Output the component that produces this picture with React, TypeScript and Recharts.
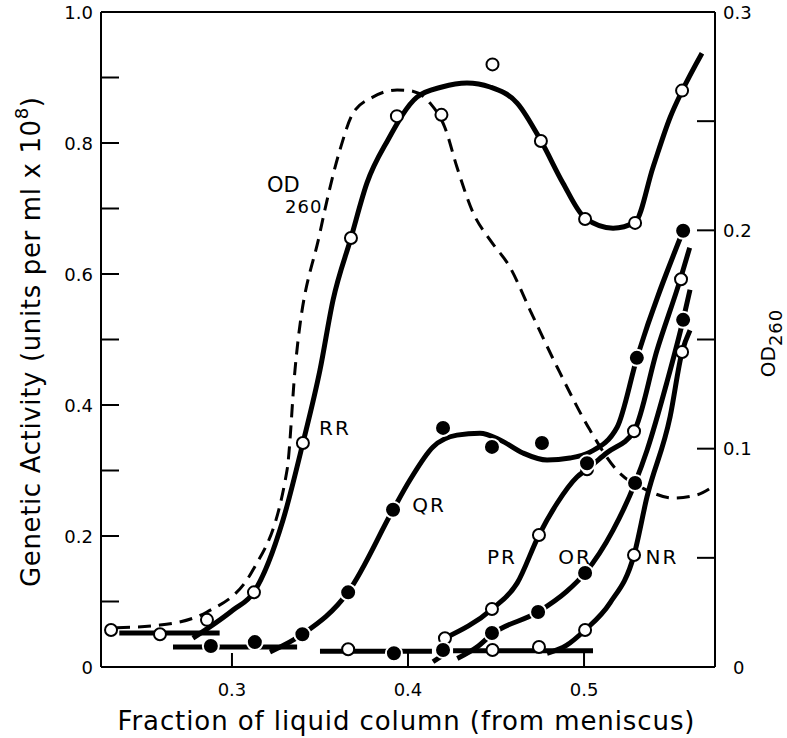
import React from 'react';
import { ComposedChart, Line, XAxis, YAxis, ReferenceLine, ReferenceDot } from 'recharts';

const FONT = '"DejaVu Sans", Verdana, sans-serif';

// plot frame in page pixels (chart sits at 0,0)
const PLOT_TOP = 12;
const PLOT_BOTTOM = 667;
const PLOT_LEFT = 101;
const PLOT_RIGHT = 715;

const xTicks = [0.3, 0.4, 0.5];
const gaTicks = [0, 0.1, 0.2, 0.3, 0.4, 0.5, 0.6, 0.7, 0.8, 0.9, 1.0];
const odTicks = [0, 0.05, 0.1, 0.15, 0.2, 0.25, 0.3];

// OD260 trace (right axis)
const odCurve = [
  { x: 0.2347, y: 0.018 }, { x: 0.2591, y: 0.0192 }, { x: 0.2858, y: 0.0252 },
  { x: 0.3119, y: 0.0444 }, { x: 0.3313, y: 0.0902 }, { x: 0.3358, y: 0.136 },
  { x: 0.35, y: 0.199 }, { x: 0.3614, y: 0.237 }, { x: 0.3688, y: 0.2537 },
  { x: 0.38, y: 0.261 }, { x: 0.3938, y: 0.2643 }, { x: 0.401, y: 0.264 },
  { x: 0.4125, y: 0.2583 }, { x: 0.421, y: 0.247 }, { x: 0.4278, y: 0.229 },
  { x: 0.437, y: 0.208 }, { x: 0.4466, y: 0.1956 }, { x: 0.458, y: 0.183 },
  { x: 0.4693, y: 0.1635 }, { x: 0.4847, y: 0.1374 }, { x: 0.5034, y: 0.1085 },
  { x: 0.5188, y: 0.09 }, { x: 0.5358, y: 0.081 }, { x: 0.5506, y: 0.0774 },
  { x: 0.564, y: 0.0788 }, { x: 0.5727, y: 0.0824 },
];

// genetic activity curves
const rrBase = [{ x: 0.236, y: 0.052 }, { x: 0.293, y: 0.052 }];
const rrCurve = [
  { x: 0.2778, y: 0.044 }, { x: 0.3006, y: 0.087 }, { x: 0.3125, y: 0.1145 },
  { x: 0.329, y: 0.2244 }, { x: 0.3403, y: 0.342 }, { x: 0.35, y: 0.4534 },
  { x: 0.3574, y: 0.56 }, { x: 0.3676, y: 0.655 }, { x: 0.3767, y: 0.739 },
  { x: 0.3886, y: 0.8046 }, { x: 0.4051, y: 0.87 }, { x: 0.4193, y: 0.8855 },
  { x: 0.4335, y: 0.8916 }, { x: 0.4466, y: 0.8855 }, { x: 0.462, y: 0.861 },
  { x: 0.4756, y: 0.803 }, { x: 0.488, y: 0.739 }, { x: 0.5006, y: 0.6855 },
  { x: 0.5165, y: 0.67 }, { x: 0.529, y: 0.679 }, { x: 0.5392, y: 0.763 },
  { x: 0.549, y: 0.8397 }, { x: 0.5557, y: 0.8794 }, { x: 0.567, y: 0.937 },
];
const qrBase = [{ x: 0.2665, y: 0.0305 }, { x: 0.337, y: 0.0305 }];
const qrCurve = [
  { x: 0.3216, y: 0.023 }, { x: 0.34, y: 0.05 }, { x: 0.366, y: 0.1145 },
  { x: 0.3915, y: 0.24 }, { x: 0.4011, y: 0.2855 }, { x: 0.4142, y: 0.336 },
  { x: 0.4278, y: 0.354 }, { x: 0.4409, y: 0.357 }, { x: 0.4523, y: 0.3466 },
  { x: 0.4653, y: 0.3267 }, { x: 0.479, y: 0.316 }, { x: 0.492, y: 0.319 },
  { x: 0.5034, y: 0.328 }, { x: 0.5188, y: 0.366 }, { x: 0.5301, y: 0.472 },
  { x: 0.5563, y: 0.666 },
];
const lowBaseA = [{ x: 0.35, y: 0.024 }, { x: 0.4136, y: 0.024 }];
const lowBaseB = [{ x: 0.4256, y: 0.025 }, { x: 0.5051, y: 0.025 }];
const prCurve = [
  { x: 0.421, y: 0.044 }, { x: 0.4477, y: 0.0885 }, { x: 0.462, y: 0.128 },
  { x: 0.4744, y: 0.2015 }, { x: 0.4847, y: 0.25 }, { x: 0.496, y: 0.29 },
  { x: 0.5017, y: 0.302 }, { x: 0.513, y: 0.327 }, { x: 0.5284, y: 0.36 },
  { x: 0.5415, y: 0.484 }, { x: 0.5546, y: 0.591 }, { x: 0.56, y: 0.64 },
];
const orStart = [{ x: 0.4142, y: 0.008 }, { x: 0.4227, y: 0.023 }];
const orCurve = [
  { x: 0.428, y: 0.013 }, { x: 0.44, y: 0.032 }, { x: 0.4477, y: 0.05 },
  { x: 0.4739, y: 0.084 }, { x: 0.49, y: 0.115 }, { x: 0.5006, y: 0.1435 },
  { x: 0.5165, y: 0.209 }, { x: 0.529, y: 0.281 }, { x: 0.5358, y: 0.331 },
  { x: 0.547, y: 0.434 }, { x: 0.5563, y: 0.53 }, { x: 0.5602, y: 0.576 },
];
const nrCurve = [
  { x: 0.479, y: 0.021 }, { x: 0.49, y: 0.033 }, { x: 0.5006, y: 0.0565 },
  { x: 0.5148, y: 0.098 }, { x: 0.5284, y: 0.171 }, { x: 0.5358, y: 0.26 },
  { x: 0.5489, y: 0.382 }, { x: 0.5557, y: 0.481 }, { x: 0.5602, y: 0.514 },
];

// measured points
const rrPoints = [
  { x: 0.2313, y: 0.0565 }, { x: 0.2591, y: 0.05 }, { x: 0.2858, y: 0.072 },
  { x: 0.3125, y: 0.114 }, { x: 0.3403, y: 0.342 }, { x: 0.3676, y: 0.655 },
  { x: 0.3937, y: 0.841 }, { x: 0.419, y: 0.843 }, { x: 0.448, y: 0.92 },
  { x: 0.4755, y: 0.803 }, { x: 0.5006, y: 0.684 }, { x: 0.529, y: 0.678 },
  { x: 0.5557, y: 0.88 },
];
const qrPoints = [
  { x: 0.288, y: 0.032 }, { x: 0.313, y: 0.038 }, { x: 0.34, y: 0.05 },
  { x: 0.366, y: 0.114 }, { x: 0.3915, y: 0.24 }, { x: 0.4199, y: 0.365 },
  { x: 0.4477, y: 0.336 }, { x: 0.4761, y: 0.342 }, { x: 0.5017, y: 0.311 },
  { x: 0.53, y: 0.472 }, { x: 0.5563, y: 0.666 },
];
const prPoints = [
  { x: 0.421, y: 0.044 }, { x: 0.4477, y: 0.0885 }, { x: 0.4744, y: 0.2015 },
  { x: 0.5017, y: 0.302 }, { x: 0.5284, y: 0.36 }, { x: 0.5551, y: 0.592 },
];
const orPoints = [
  { x: 0.392, y: 0.021 }, { x: 0.4199, y: 0.026 }, { x: 0.4477, y: 0.052 },
  { x: 0.4739, y: 0.084 }, { x: 0.5006, y: 0.1435 }, { x: 0.529, y: 0.281 },
  { x: 0.5563, y: 0.53 },
];
const nrPoints = [
  { x: 0.366, y: 0.027 }, { x: 0.448, y: 0.026 }, { x: 0.4744, y: 0.0305 },
  { x: 0.5006, y: 0.0565 }, { x: 0.5284, y: 0.171 }, { x: 0.5557, y: 0.481 },
];

const curveLabels = [
  { text: 'RR', x: 0.3585, y: 0.365 },
  { text: 'QR', x: 0.412, y: 0.247 },
  { text: 'PR', x: 0.4534, y: 0.168 },
  { text: 'OR', x: 0.4949, y: 0.168 },
  { text: 'NR', x: 0.5443, y: 0.168 },
];

const openDot = { r: 6, fill: '#fff', stroke: '#000', strokeWidth: 2 };
const filledDot = { r: 8, fill: '#000', stroke: '#fff', strokeWidth: 2 };

const BottomTick = (props: any) => {
  const { x, payload } = props;
  return (
    <g>
      <line x1={x} y1={PLOT_BOTTOM} x2={x} y2={PLOT_BOTTOM - 14} stroke="#000" strokeWidth={2} />
      <text x={x} y={689} textAnchor="middle" dominantBaseline="central" fontSize={18} fontFamily={FONT}>
        {payload.value.toFixed(1)}
      </text>
    </g>
  );
};

const LeftTick = (props: any) => {
  const { y, payload } = props;
  const v = payload.value;
  const tenth = Math.round(v * 10);
  const showLabel = tenth % 2 === 0;
  return (
    <g>
      {v > 0 && v < 1 && (
        <line x1={PLOT_LEFT} y1={y} x2={PLOT_LEFT + 18} y2={y} stroke="#000" strokeWidth={2} />
      )}
      {showLabel && (
        <text x={93} y={y} textAnchor="end" dominantBaseline="central" fontSize={18} fontFamily={FONT}>
          {v === 0 ? '0' : v.toFixed(1)}
        </text>
      )}
    </g>
  );
};

const RightTick = (props: any) => {
  const { y, payload } = props;
  const v = payload.value;
  const step = Math.round(v * 20);
  const showLabel = step % 2 === 0;
  return (
    <g>
      {v > 0 && v < 0.3 && (
        <line x1={PLOT_RIGHT - 18} y1={y} x2={PLOT_RIGHT} y2={y} stroke="#000" strokeWidth={2} />
      )}
      {showLabel && (
        <text x={v === 0 ? 733 : 723} y={y} textAnchor="start" dominantBaseline="central" fontSize={18} fontFamily={FONT}>
          {v === 0 ? '0' : v.toFixed(1)}
        </text>
      )}
    </g>
  );
};

const LeftTitle = () => (
  <text
    x={31}
    y={342}
    transform="rotate(-90, 31, 342)"
    textAnchor="middle"
    dominantBaseline="central"
    fontSize={26}
    fontFamily={FONT}
    textLength={490}
    lengthAdjust="spacing"
  >
    Genetic Activity (units per ml x 10<tspan dy={-10} fontSize={18}>8</tspan><tspan dy={10}>)</tspan>
  </text>
);

const BottomTitle = () => (
  <text
    x={406}
    y={721}
    textAnchor="middle"
    dominantBaseline="central"
    fontSize={26}
    fontFamily={FONT}
    textLength={577}
    lengthAdjust="spacing"
  >
    Fraction of liquid column (from meniscus)
  </text>
);

const RightTitle = () => (
  <text
    x={768}
    y={343}
    transform="rotate(-90, 768, 343)"
    textAnchor="middle"
    dominantBaseline="central"
    fontSize={20}
    fontFamily={FONT}
  >
    OD<tspan dy={7} fontSize={18} letterSpacing={1}>260</tspan>
  </text>
);

const tag = (text: string) => (p: any) => (
  <text
    x={p.viewBox.x}
    y={p.viewBox.y}
    textAnchor="middle"
    dominantBaseline="central"
    fontSize={20}
    fontFamily={FONT}
    letterSpacing={2}
  >
    {text}
  </text>
);

const odTag = (p: any) => (
  <g>
    <text x={p.viewBox.x} y={p.viewBox.y} fontSize={21} fontFamily={FONT}>OD</text>
    <text x={p.viewBox.x + 18} y={p.viewBox.y + 21} fontSize={18} fontFamily={FONT} letterSpacing={1}>260</text>
  </g>
);

export default function App() {
  const curveProps = {
    yAxisId: 'ga',
    dataKey: 'y',
    type: 'monotone' as const,
    stroke: '#000',
    strokeWidth: 5,
    dot: false,
    activeDot: false,
    isAnimationActive: false,
    legendType: 'none' as const,
  };
  const markerProps = {
    yAxisId: 'ga',
    dataKey: 'y',
    stroke: 'none',
    activeDot: false,
    isAnimationActive: false,
    legendType: 'none' as const,
  };

  return (
    <div style={{ position: 'absolute', left: 0, top: 0, background: '#fff' }}>
      <ComposedChart width={787} height={738} margin={{ top: PLOT_TOP, right: 0, bottom: 0, left: 0 }}>
        <XAxis
          type="number"
          dataKey="x"
          domain={[0.2256, 0.5744]}
          ticks={xTicks}
          allowDataOverflow
          height={738 - PLOT_BOTTOM}
          axisLine={{ stroke: '#000', strokeWidth: 2 }}
          tickLine={false}
          tick={<BottomTick />}
          label={<BottomTitle />}
        />
        <YAxis
          yAxisId="ga"
          type="number"
          dataKey="y"
          domain={[0, 1]}
          ticks={gaTicks}
          allowDataOverflow
          width={PLOT_LEFT}
          axisLine={{ stroke: '#000', strokeWidth: 2 }}
          tickLine={false}
          tick={<LeftTick />}
          label={<LeftTitle />}
        />
        <YAxis
          yAxisId="od"
          orientation="right"
          type="number"
          dataKey="y"
          domain={[0, 0.3]}
          ticks={odTicks}
          allowDataOverflow
          width={787 - PLOT_RIGHT}
          axisLine={{ stroke: '#000', strokeWidth: 2 }}
          tickLine={false}
          tick={<RightTick />}
          label={<RightTitle />}
        />
        <ReferenceLine yAxisId="ga" y={1} stroke="#000" strokeWidth={2} />

        <Line
          data={odCurve}
          yAxisId="od"
          dataKey="y"
          type="monotone"
          stroke="#000"
          strokeWidth={3}
          strokeDasharray="13 8"
          dot={false}
          activeDot={false}
          isAnimationActive={false}
          legendType="none"
        />

        <Line data={rrBase} {...curveProps} />
        <Line data={rrCurve} {...curveProps} />
        <Line data={qrBase} {...curveProps} />
        <Line data={qrCurve} {...curveProps} />
        <Line data={lowBaseA} {...curveProps} />
        <Line data={lowBaseB} {...curveProps} />
        <Line data={prCurve} {...curveProps} />
        <Line data={orStart} {...curveProps} />
        <Line data={orCurve} {...curveProps} />
        <Line data={nrCurve} {...curveProps} />

        <Line data={rrPoints} {...markerProps} dot={openDot} />
        <Line data={prPoints} {...markerProps} dot={openDot} />
        <Line data={nrPoints} {...markerProps} dot={openDot} />
        <Line data={qrPoints} {...markerProps} dot={filledDot} />
        <Line data={orPoints} {...markerProps} dot={filledDot} />

        {curveLabels.map((l) => (
          <ReferenceDot key={l.text} yAxisId="ga" x={l.x} y={l.y} r={0} fill="none" stroke="none" label={tag(l.text)} />
        ))}
        <ReferenceDot yAxisId="ga" x={0.3199} y={0.7252} r={0} fill="none" stroke="none" label={odTag} />
      </ComposedChart>
    </div>
  );
}
